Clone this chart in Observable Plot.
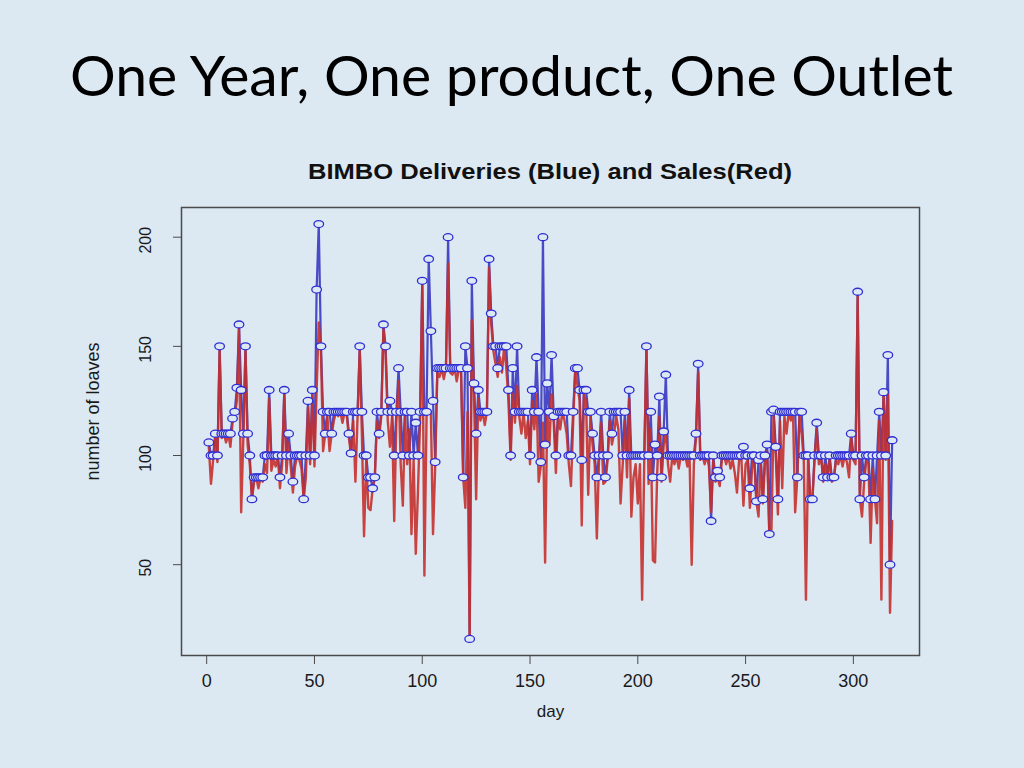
<!DOCTYPE html>
<html><head><meta charset="utf-8">
<script src="https://cdn.jsdelivr.net/npm/d3@7"></script>
<script src="https://cdn.jsdelivr.net/npm/@observablehq/plot@0.6"></script>
<style>
html,body{margin:0;padding:0;background:#dce9f3;}
#page{position:relative;width:1024px;height:768px;overflow:hidden;background:#dce9f3;}
#slideTitle{position:absolute;left:70px;top:46px;font-family:Lato,"Open Sans",sans-serif;font-size:57px;color:#000;white-space:nowrap;transform-origin:0 0;line-height:1;}
#chartTitle{position:absolute;left:0;top:161px;font-family:"Liberation Sans",Arial,sans-serif;font-weight:bold;font-size:22px;color:#111;white-space:nowrap;transform-origin:0 0;line-height:1;}
#chart{position:absolute;left:0;top:190px;}
</style></head>
<body><div id="page"><div id="slideTitle">One Year, One product, One Outlet</div><div id="chartTitle">BIMBO Deliveries (Blue) and Sales(Red)</div><div id="chart"></div></div>
<script>
// Deliveries (blue) per day, days 1..318
const deliveries = [
106,100,100,110,100,150,110,110,110,110,
110,117,120,131,160,130,110,150,110,100,
80,90,90,90,90,90,100,100,130,100,
100,100,100,90,100,130,100,110,100,88,
100,100,100,100,80,100,125,100,130,100,
176,206,150,120,110,120,120,110,120,120,
120,120,120,120,120,110,101,120,120,120,
150,120,100,100,90,90,85,90,120,110,
120,160,150,120,125,120,100,120,140,120,
100,120,120,100,120,100,115,100,120,180,
120,120,190,157,125,97,140,140,140,140,
140,200,140,140,140,140,140,140,90,150,
140,16,180,133,110,130,120,120,120,120,
190,165,150,150,140,150,150,150,150,130,
100,140,120,150,120,120,120,120,120,100,
130,120,145,120,97,200,105,133,120,146,
118,100,120,120,120,120,120,100,100,120,
140,140,130,98,130,130,120,120,110,100,
90,100,120,100,90,100,120,110,120,120,
120,120,100,120,100,130,100,100,100,100,
100,100,100,150,100,120,90,105,100,127,
90,111,137,100,100,100,100,100,100,100,
100,100,100,100,100,100,110,142,100,100,
100,100,100,70,100,90,93,90,100,100,
100,100,100,100,100,100,100,100,104,100,
100,85,100,100,79,98,100,80,100,105,
64,120,121,104,80,120,120,120,120,120,
120,120,120,90,120,120,100,100,100,80,
80,100,115,100,100,90,100,90,100,90,
90,100,100,100,100,100,100,100,110,100,
100,175,80,100,90,100,100,80,100,80,
100,120,100,129,100,146,50,107
];
// Sales (red) per day, days 1..318
const sales = [
104,87,98,108,97,148,108,110,106,110,
104,115,118,125,158,74,108,148,105,96,
80,88,90,85,90,88,96,92,126,93,
98,95,100,85,96,128,92,106,95,83,
95,100,98,94,80,90,122,96,128,95,
130,161,148,102,110,118,102,110,116,120,
118,120,115,120,118,108,100,116,88,118,
148,110,63,98,76,75,85,90,116,108,
118,158,146,116,104,118,70,116,134,96,
77,118,96,112,64,98,55,83,116,178,
45,118,120,120,64,95,138,136,140,135,
140,188,138,137,140,134,140,138,90,76,
120,16,162,128,80,126,116,120,114,120,
186,160,148,142,136,145,138,150,140,125,
98,130,115,132,118,110,120,108,116,96,
125,112,128,88,95,115,51,120,105,128,
115,92,118,112,120,116,110,96,86,115,
140,132,125,68,128,125,82,118,105,96,
62,98,115,87,88,98,116,105,110,118,
112,78,96,116,90,126,72,90,96,78,
96,34,98,150,87,112,52,51,92,118,
88,105,110,96,88,100,96,100,94,100,
98,100,95,100,50,96,108,138,98,100,
96,100,95,74,98,88,90,86,98,100,
96,100,94,98,92,83,98,100,77,96,
98,76,94,100,79,72,98,78,96,102,
64,66,118,100,73,116,85,118,110,120,
116,120,74,90,118,110,98,34,100,80,
80,98,112,96,100,88,96,90,98,88,
90,98,96,100,95,100,97,90,108,98,
96,173,80,72,88,98,96,60,94,80,
69,116,34,129,98,128,28,70
];
const xTicks = [0, 50, 100, 150, 200, 250, 300];
const yTicks = [50, 100, 150, 200];
const titleText = "BIMBO Deliveries (Blue) and Sales(Red)";
const xLabel = "day";
const yLabel = "number of loaves";

const bg = "#dce9f3";
const rows = deliveries.map((v, i) => ({day: i + 1, deliveries: v, sales: sales[i]}));

// R-style 4% range expansion
const xe = d3.extent(rows, d => d.day);
const ye = d3.extent([...deliveries, ...sales]);
const xp = (xe[1] - xe[0]) * 0.04, yp = (ye[1] - ye[0]) * 0.04;

const ellipse = {
  draw(ctx) {
    const rx = 4.8, ry = 3.5, k = 0.5523;
    ctx.moveTo(rx, 0);
    ctx.bezierCurveTo(rx, ry * k, rx * k, ry, 0, ry);
    ctx.bezierCurveTo(-rx * k, ry, -rx, ry * k, -rx, 0);
    ctx.bezierCurveTo(-rx, -ry * k, -rx * k, -ry, 0, -ry);
    ctx.bezierCurveTo(rx * k, -ry, rx, -ry * k, rx, 0);
    ctx.closePath();
  }
};

const chart = Plot.plot({
  width: 1024,
  height: 578,
  marginLeft: 181,
  marginRight: 105,
  marginTop: 17,
  marginBottom: 113,
  style: {background: "transparent", fontFamily: "'Liberation Sans', Arial, sans-serif", color: "#1a1a1a"},
  x: {domain: [xe[0] - xp, xe[1] + xp]},
  y: {domain: [ye[0] - yp, ye[1] + yp]},
  marks: [
    Plot.lineY(rows, {x: "day", y: "deliveries", stroke: "#4a4ac4", strokeWidth: 2.2}),
    Plot.lineY(rows, {x: "day", y: "sales", stroke: "#c4302c", strokeWidth: 2.4, strokeOpacity: 0.9}),
    Plot.dot(rows, {x: "day", y: "deliveries", symbol: ellipse, r: 4, stroke: "#2e2ed4", strokeWidth: 1.3, fill: bg}),
    Plot.frame({stroke: "#4a4a4a", strokeWidth: 1.5}),
    Plot.axisX({ticks: xTicks, tickSize: 9, tickPadding: 10, fontSize: 18, label: null, stroke: "#4a4a4a"}),
    Plot.axisY({ticks: yTicks, tickSize: 8, tickFormat: () => "", label: null, stroke: "#4a4a4a"}),
    Plot.text(yTicks, {y: d => d, text: d => String(d), frameAnchor: "left", textAnchor: "middle", dx: -36, dy: 3, rotate: -90, fontSize: 16, fill: "#1a1a1a"}),
    Plot.text([xLabel], {frameAnchor: "bottom", dy: 61, fontSize: 17, fill: "#1a1a1a"}),
    Plot.text([yLabel], {frameAnchor: "left", textAnchor: "middle", dx: -88, dy: -20, rotate: -90, fontSize: 18, fill: "#1a1a1a"})
  ]
});
document.getElementById("chart").appendChild(chart);

// fit the titles to the widths seen in the slide
const st = document.getElementById("slideTitle");
st.style.transform = `scaleX(${883 / st.getBoundingClientRect().width})`;
const ct = document.getElementById("chartTitle");
ct.textContent = titleText;
const w = ct.getBoundingClientRect().width;
ct.style.left = (550 - 484 / 2) + "px";
ct.style.transform = `scaleX(${484 / w})`;
</script>
</body></html>
